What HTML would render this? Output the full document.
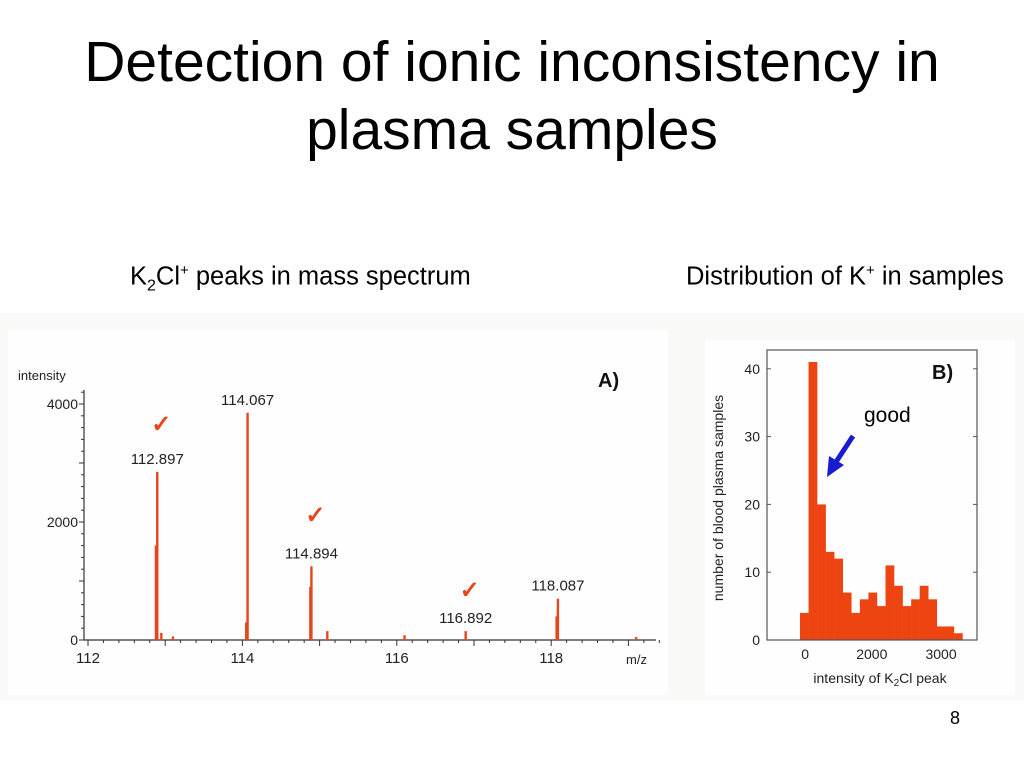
<!DOCTYPE html>
<html><head><meta charset="utf-8">
<style>
body{margin:0;width:1024px;height:768px;background:#fff;font-family:"Liberation Sans",sans-serif;overflow:hidden;position:relative}
.t{position:absolute;left:0;width:1024px;text-align:center;font-size:57px;line-height:68px;color:#000}
.s{position:absolute;font-size:25.5px;color:#000;white-space:nowrap}
</style></head><body>
<div class="t" style="top:28px">Detection of ionic inconsistency in<br>plasma samples</div>
<div class="s" style="left:130px;top:262px">K<sub style="font-size:16px">2</sub>Cl<sup style="font-size:15px">+</sup> peaks in mass spectrum</div>
<div class="s" style="left:686px;top:262px">Distribution of K<sup style="font-size:15px">+</sup> in samples</div>
<div class="s" style="left:950px;top:708px;font-size:18px">8</div>
<svg id="c" width="1024" height="768" style="position:absolute;left:0;top:0" font-family="Liberation Sans, sans-serif">
<rect x="0" y="313" width="1024" height="387" fill="#f9f9f8"/>
<rect x="8" y="330" width="660" height="365" fill="#fefefe"/>
<rect x="705" y="340" width="310" height="355" fill="#fefefe"/>
</svg>
<script>
// Spectrum data
const peakMz=[112.897,112.88,114.067,114.05,114.894,114.88,115.1,116.1,116.892,118.087,118.07,119.1,113.1,112.95];
const peakInt=[2850,1600,3850,300,1250,900,150,80,150,700,400,50,60,120];
const peakLabels=["112.897","114.067","114.894","116.892","118.087"];
const labelMz=[112.897,114.067,114.894,116.892,118.087];
const labelInt=[2850,3850,1250,150,700];
const checkMz=[112.897,114.894,116.892];
const xTicks=[112,114,116,118];
const yTicks=[0,2000,4000];
// Histogram data
const histCounts=[4,41,20,13,12,7,4,6,7,5,11,8,5,6,8,6,2,2,1];
const histXTicks=[0,2000,3000];
const histXTickPos=[0.6,8.4,16.5];
const histYTicks=[0,10,20,30,40];

const svg=document.getElementById('c');
const NS='http://www.w3.org/2000/svg';
function el(t,a,p){const e=document.createElementNS(NS,t);for(const k in a)e.setAttribute(k,a[k]);(p||svg).appendChild(e);return e;}
const sx=v=>88+(v-112)*77.2, sy=v=>640-v*0.059;
const red='#e8451a';
let a=el('line',{x1:84,y1:390,x2:84,y2:640,stroke:'#333','stroke-width':1.2});

a=el('line',{x1:84,y1:640,x2:656,y2:640,stroke:'#333','stroke-width':1.2});

for(let m=112;m<=119.6;m+=0.2){el('line',{x1:sx(m),y1:640,x2:sx(m),y2:Math.abs(m-Math.round(m))<0.01?646:643,stroke:'#333'});}
for(let v=0;v<=4200;v+=200){el('line',{x1:84,y1:sy(v),x2:v%1000==0?79:81,y2:sy(v),stroke:'#333'});}
xTicks.forEach(v=>{const t=el('text',{x:sx(v),y:663,'font-size':15,'text-anchor':'middle',fill:'#222'});t.textContent=v;
});
yTicks.forEach(v=>{const t=el('text',{x:78,y:sy(v)+5,'font-size':14,'text-anchor':'end',fill:'#222'});t.textContent=v;
});
let tt=el('text',{x:18,y:380,'font-size':13,fill:'#222'});tt.textContent='intensity';

tt=el('text',{x:626,y:664,'font-size':13,fill:'#222'});tt.textContent='m/z';

tt=el('text',{x:598,y:387,'font-size':20,'font-weight':'bold',fill:'#111'});tt.textContent='A)';

peakMz.forEach((m,i)=>{const r=el('rect',{x:sx(m)-1.2,y:sy(peakInt[i]),width:2.4,height:640-sy(peakInt[i]),fill:red});
});
peakLabels.forEach((l,i)=>{const t=el('text',{x:sx(labelMz[i]),y:sy(labelInt[i])-8,'font-size':15,'text-anchor':'middle',fill:'#222'});t.textContent=l;
});
checkMz.forEach(m=>{const t=el('text',{x:sx(m)+4,y:m<113?432:(m<115?523:598),'font-size':24,'font-weight':'bold','text-anchor':'middle',fill:red});t.textContent='✓';
});
// Histogram B
const hx=i=>800+i*8.55, hy=v=>640-v*6.78;
histCounts.forEach((c,i)=>{const r=el('rect',{x:hx(i),y:hy(c),width:8.8,height:640-hy(c),fill:'#ee4411'});
});
a=el('rect',{x:767,y:350,width:210,height:290,fill:'none',stroke:'#555','stroke-width':1.2});

histYTicks.forEach(v=>{el('line',{x1:767,y1:hy(v),x2:771,y2:hy(v),stroke:'#555'});el('line',{x1:977,y1:hy(v),x2:973,y2:hy(v),stroke:'#555'});
const t=el('text',{x:760,y:hy(v)+5,'font-size':14,'text-anchor':'end',fill:'#222'});t.textContent=v;
});
histXTicks.forEach((v,i)=>{const t=el('text',{x:hx(histXTickPos[i]),y:659,'font-size':14,'text-anchor':'middle',fill:'#222'});t.textContent=v;
});
tt=el('text',{x:0,y:0,'font-size':14,'text-anchor':'middle',fill:'#222',transform:'translate(723,498) rotate(-90)'});tt.textContent='number of blood plasma samples';

tt=el('text',{x:880,y:683,'font-size':14,'text-anchor':'middle',fill:'#222'});tt.innerHTML='intensity of K<tspan font-size="10" dy="3">2</tspan><tspan dy="-3">Cl peak</tspan>';

tt=el('text',{x:932,y:379,'font-size':20,'font-weight':'bold',fill:'#111'});tt.textContent='B)';

tt=el('text',{x:864,y:422,'font-size':21,fill:'#000'});tt.textContent='good';

a=el('line',{x1:853,y1:436,x2:836,y2:462,stroke:'#1a1ad0','stroke-width':5});

a=el('polygon',{points:'827,477 829,456 844,465',fill:'#1a1ad0'});

</script>
</body></html>
